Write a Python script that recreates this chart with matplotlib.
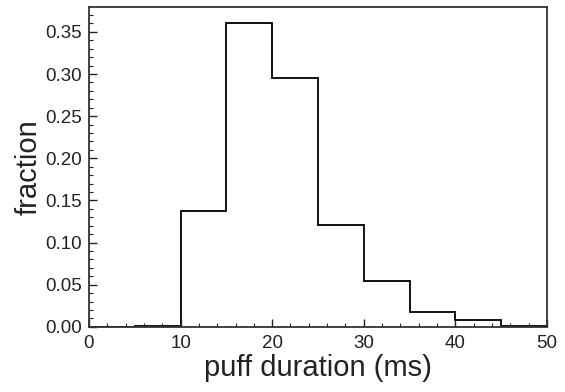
import numpy as np
import matplotlib
matplotlib.use("Agg")
import matplotlib.pyplot as plt
from matplotlib.ticker import MultipleLocator

plt.rcParams['font.family'] = ['Liberation Sans', 'DejaVu Sans']

# histogram of puff durations, 5 ms bins
bin_edges = [0, 5, 10, 15, 20, 25, 30, 35, 40, 45, 50]
fraction = [0.0003, 0.001, 0.137, 0.361, 0.295, 0.121, 0.054, 0.018, 0.0085, 0.001]

fig = plt.figure(figsize=(5.65, 3.92), dpi=100)
ax = fig.add_axes([0.1575, 0.166, 0.8105, 0.815])

ax.stairs(fraction, bin_edges, color='black', linewidth=1.3)

ax.set_xlim(0, 50)
ax.set_ylim(0, 0.379)
ax.xaxis.set_major_locator(MultipleLocator(10))
ax.xaxis.set_minor_locator(MultipleLocator(2))
ax.yaxis.set_major_locator(MultipleLocator(0.05))
ax.yaxis.set_minor_locator(MultipleLocator(0.01))
ax.yaxis.set_major_formatter(matplotlib.ticker.FormatStrFormatter('%.2f'))

ax.tick_params(which='both', direction='in', top=False, right=False, labelsize=13.5,
               color='#222222', labelcolor='#222222')
ax.tick_params(which='major', length=6, width=1)
ax.tick_params(which='minor', length=3, width=0.8)
ax.tick_params(axis='x', which='major', pad=6)
ax.tick_params(axis='y', which='major', pad=5)
for s in ax.spines.values():
    s.set_linewidth(1.3)
    s.set_color('#333333')

ax.set_xlabel('puff duration (ms)', fontsize=21, labelpad=1, color='#222222')
ax.set_ylabel('fraction', fontsize=21, labelpad=2, color='#222222')

fig.savefig('out.png', dpi=100)
